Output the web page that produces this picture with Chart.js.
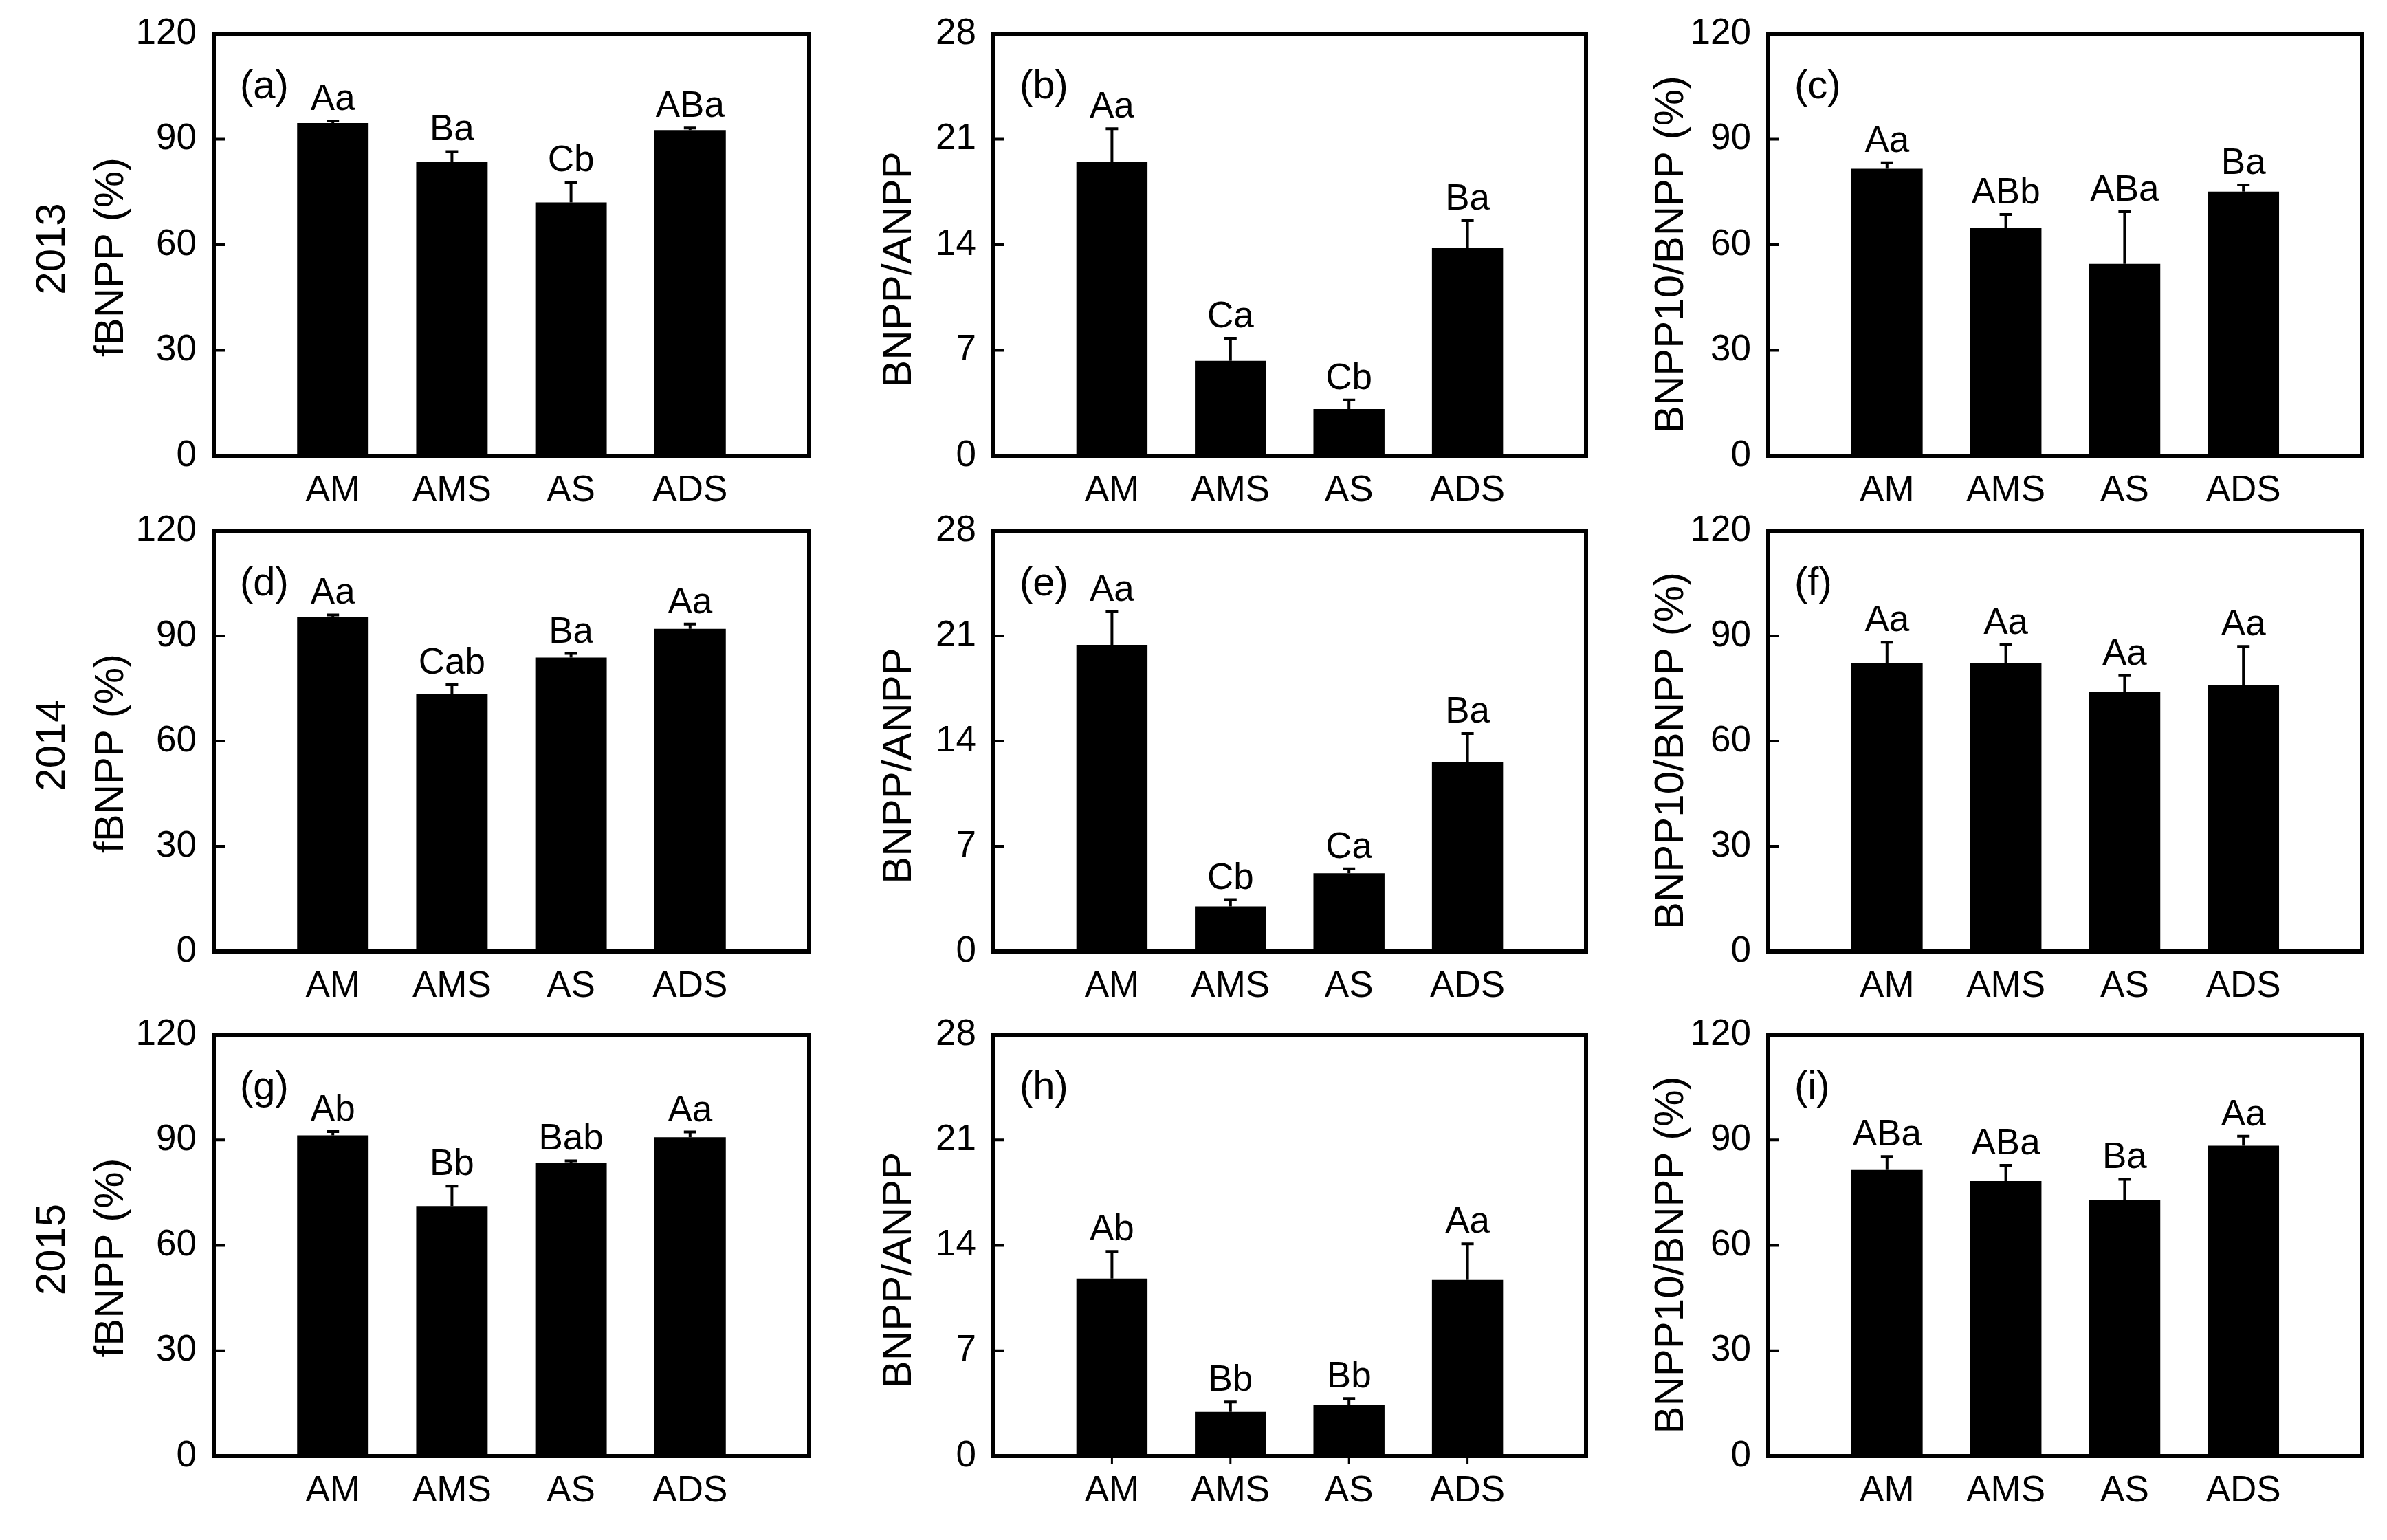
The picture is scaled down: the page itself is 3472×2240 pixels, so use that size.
<!DOCTYPE html>
<html>
<head>
<meta charset="utf-8">
<script src="https://cdn.jsdelivr.net/npm/chart.js@4.4.1/dist/chart.umd.min.js"></script>
<style>
html,body{margin:0;padding:0;background:#fff;}
body{width:3472px;height:2240px;position:relative;overflow:hidden;}
canvas{position:absolute;}
</style>
</head>
<body>
<script>
// ---------------- data ----------------
const categories = ['AM', 'AMS', 'AS', 'ADS'];
const years = ['2013', '2014', '2015'];
const panelTags = ['(a)', '(b)', '(c)', '(d)', '(e)', '(f)', '(g)', '(h)', '(i)'];
const yTitles = ['fBNPP (%)', 'BNPP/ANPP', 'BNPP10/BNPP (%)'];
const pctTicks = [0, 30, 60, 90, 120];
const ratioTicks = [0, 7, 14, 21, 28];

// 2013
const fbnpp2013 = [94.6, 83.6, 72.0, 92.6];
const fbnpp2013Err = [0.6, 2.9, 5.7, 0.6];
const fbnpp2013Sig = ['Aa', 'Ba', 'Cb', 'ABa'];
const ratio2013 = [19.5, 6.3, 3.1, 13.8];
const ratio2013Err = [2.2, 1.5, 0.6, 1.8];
const ratio2013Sig = ['Aa', 'Ca', 'Cb', 'Ba'];
const bnpp10_2013 = [81.6, 64.8, 54.6, 75.1];
const bnpp10_2013Err = [1.7, 3.8, 14.8, 1.9];
const bnpp10_2013Sig = ['Aa', 'ABb', 'ABa', 'Ba'];
// 2014
const fbnpp2014 = [95.3, 73.4, 83.8, 92.0];
const fbnpp2014Err = [0.7, 2.7, 1.2, 1.4];
const fbnpp2014Sig = ['Aa', 'Cab', 'Ba', 'Aa'];
const ratio2014 = [20.4, 3.0, 5.2, 12.6];
const ratio2014Err = [2.2, 0.45, 0.3, 1.9];
const ratio2014Sig = ['Aa', 'Cb', 'Ca', 'Ba'];
const bnpp10_2014 = [82.3, 82.3, 74.0, 75.9];
const bnpp10_2014Err = [5.9, 5.2, 4.7, 11.1];
const bnpp10_2014Sig = ['Aa', 'Aa', 'Aa', 'Aa'];
// 2015
const fbnpp2015 = [91.3, 71.2, 83.5, 90.8];
const fbnpp2015Err = [1.1, 5.7, 0.6, 1.5];
const fbnpp2015Sig = ['Ab', 'Bb', 'Bab', 'Aa'];
const ratio2015 = [11.8, 2.94, 3.38, 11.7];
const ratio2015Err = [1.8, 0.66, 0.45, 2.4];
const ratio2015Sig = ['Ab', 'Bb', 'Bb', 'Aa'];
const bnpp10_2015 = [81.5, 78.3, 73.0, 88.4];
const bnpp10_2015Err = [3.8, 4.5, 5.8, 2.7];
const bnpp10_2015Sig = ['ABa', 'ABa', 'Ba', 'Aa'];

// ---------------- layout (pixels) ----------------
const FONT = '"Liberation Sans", Arial, Helvetica, sans-serif';
const cols = [
  { canvasLeft: 0,    plotL: 311,  plotR: 1177, titleX: 162, titleShift: 18, yearX: 77 },
  { canvasLeft: 1200, plotL: 1445, plotR: 2307, titleX: 1308, titleShift: 36 },
  { canvasLeft: 2330, plotL: 2572, plotR: 3436, titleX: 2431, titleShift: 14 }
];
const rows = [
  { plotT: 49,  plotB: 663 },
  { plotT: 772, plotB: 1384 },
  { plotT: 1505, plotB: 2118 }
];
const PAD_TOP = 70, PAD_RIGHT = 20, X_AXIS_H = 110;
const TITLE_SIZE = 60;

const panelData = [
  [fbnpp2013, fbnpp2013Err, fbnpp2013Sig], [ratio2013, ratio2013Err, ratio2013Sig], [bnpp10_2013, bnpp10_2013Err, bnpp10_2013Sig],
  [fbnpp2014, fbnpp2014Err, fbnpp2014Sig], [ratio2014, ratio2014Err, ratio2014Sig], [bnpp10_2014, bnpp10_2014Err, bnpp10_2014Sig],
  [fbnpp2015, fbnpp2015Err, fbnpp2015Sig], [ratio2015, ratio2015Err, ratio2015Sig], [bnpp10_2015, bnpp10_2015Err, bnpp10_2015Sig]
];
const colTicks = [pctTicks, ratioTicks, pctTicks];

function rotatedText(ctx, text, x, y) {
  ctx.save();
  ctx.translate(x, y);
  ctx.rotate(-Math.PI / 2);
  ctx.textAlign = 'center';
  ctx.textBaseline = 'middle';
  ctx.fillText(text, 0, 0);
  ctx.restore();
}

// ---------------- plugin: frame, inward ticks, error bars, letters, titles ----------------
const decor = {
  id: 'decor',
  afterDatasetsDraw(chart) {
    const o = chart.options.plugins.decor;
    const { ctx, chartArea: a } = chart;
    const y = chart.scales.y;
    const meta = chart.getDatasetMeta(0);
    const vals = chart.data.datasets[0].data;
    ctx.save();
    ctx.strokeStyle = '#000';
    ctx.fillStyle = '#000';
    ctx.lineCap = 'butt';
    // error bars + significance letters
    meta.data.forEach((el, i) => {
      const v = vals[i];
      if (v === null || v === undefined) return;
      const e = o.err[i];
      const yTop = y.getPixelForValue(v + e);
      ctx.lineWidth = 4;
      ctx.beginPath();
      ctx.moveTo(el.x, el.y);
      ctx.lineTo(el.x, yTop);
      ctx.moveTo(el.x - 9, yTop);
      ctx.lineTo(el.x + 9, yTop);
      ctx.stroke();
      ctx.font = '53px ' + FONT;
      ctx.textAlign = 'center';
      ctx.textBaseline = 'alphabetic';
      ctx.fillText(o.sig[i], el.x, yTop - 16);
      if (o.xMarks) {
        ctx.lineWidth = 3;
        ctx.beginPath();
        ctx.moveTo(el.x, a.bottom);
        ctx.lineTo(el.x, a.bottom + 12);
        ctx.stroke();
      }
    });
    // inward y tick marks
    ctx.lineWidth = 4;
    y.ticks.forEach(t => {
      if (t.value <= y.min || t.value >= y.max) return;
      const py = y.getPixelForValue(t.value);
      ctx.beginPath();
      ctx.moveTo(a.left, py);
      ctx.lineTo(a.left + 16, py);
      ctx.stroke();
    });
    // frame
    ctx.lineWidth = 6;
    ctx.strokeRect(a.left, a.top, a.right - a.left, a.bottom - a.top);
    // panel tag
    ctx.font = '58px ' + FONT;
    ctx.textAlign = 'left';
    ctx.textBaseline = 'alphabetic';
    ctx.fillText(o.tag, a.left + 38, a.top + 94);
    // axis title (and year label)
    const cy = (a.top + a.bottom) / 2;
    ctx.font = TITLE_SIZE + 'px ' + FONT;
    rotatedText(ctx, o.title, o.titleX, cy + o.titleShift);
    if (o.year) rotatedText(ctx, o.year, o.yearX, cy + 6);
    ctx.restore();
  }
};

// ---------------- build the 9 charts ----------------
for (let r = 0; r < 3; r++) {
  for (let c = 0; c < 3; c++) {
    const idx = r * 3 + c;
    const col = cols[c], row = rows[r];
    const [vals, errs, sigs] = panelData[idx];
    const ticks = colTicks[c];
    const canvasTop = row.plotT - PAD_TOP;
    const w = col.plotR - col.canvasLeft + PAD_RIGHT;
    const h = row.plotB - canvasTop + X_AXIS_H;
    const yW = col.plotL - col.canvasLeft;

    const cv = document.createElement('canvas');
    cv.width = w; cv.height = h;
    cv.style.left = col.canvasLeft + 'px';
    cv.style.top = canvasTop + 'px';
    cv.style.width = w + 'px';
    cv.style.height = h + 'px';
    document.body.appendChild(cv);

    new Chart(cv, {
      type: 'bar',
      data: {
        labels: [''].concat(categories, ['']),
        datasets: [{
          data: [null].concat(vals, [null]),
          backgroundColor: '#000',
          borderWidth: 0,
          categoryPercentage: 0.6,
          barPercentage: 1
        }]
      },
      options: {
        responsive: false,
        animation: false,
        events: [],
        layout: { padding: { top: PAD_TOP, right: PAD_RIGHT, left: 0, bottom: 0 } },
        plugins: {
          legend: { display: false },
          tooltip: { enabled: false },
          decor: {
            err: [0].concat(errs, [0]),
            sig: [''].concat(sigs, ['']),
            tag: panelTags[idx],
            xMarks: idx === 7,
            title: yTitles[c],
            titleX: col.titleX - col.canvasLeft,
            titleShift: col.titleShift,
            year: c === 0 ? years[r] : null,
            yearX: c === 0 ? col.yearX - col.canvasLeft : 0
          }
        },
        scales: {
          x: {
            offset: false,
            grid: { display: false, drawTicks: false },
            border: { display: false },
            ticks: {
              autoSkip: false, maxRotation: 0, minRotation: 0,
              padding: 20, color: '#000',
              font: { family: FONT, size: 53 }
            },
            afterFit(s) { s.height = X_AXIS_H; }
          },
          y: {
            min: ticks[0],
            max: ticks[ticks.length - 1],
            grid: { display: false, drawTicks: false },
            border: { display: false },
            ticks: {
              stepSize: ticks[1] - ticks[0],
              padding: 25, color: '#000',
              font: { family: FONT, size: 53 }
            },
            title: { display: false },
            afterFit(s) { s.width = yW; }
          }
        }
      },
      plugins: [decor]
    });
  }
}
</script>
</body>
</html>
